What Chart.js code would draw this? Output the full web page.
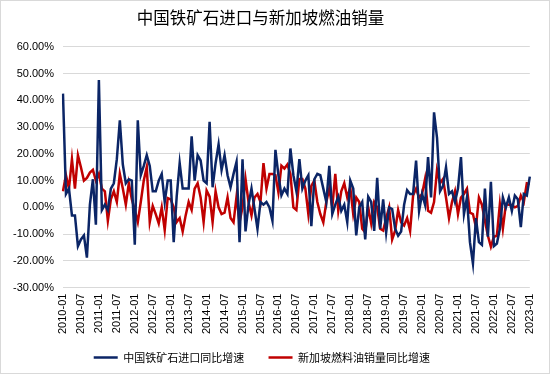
<!DOCTYPE html>
<html>
<head>
<meta charset="utf-8">
<script src="https://cdn.jsdelivr.net/npm/chart.js@4.4.1/dist/chart.umd.min.js"></script>
<style>
    html, body { margin: 0; padding: 0; background: #fff; }
    #wrap { position: relative; width: 548px; height: 372px; border: 1px solid #d9d9d9; }
</style>
</head>
<body>
<div id="wrap"><canvas id="chart"></canvas></div>
<script>
// ==================== DATA ====================
const TITLE = "中国铁矿石进口与新加坡燃油销量";
const SERIES_NAMES = ["中国铁矿石进口同比增速", "新加坡燃料油销量同比增速"];
const START_YEAR = 2010;
const END_YEAR = 2023;   // last point is 2023-01

// monthly yoy growth, %, 2010-01 .. 2023-01
const ironOre = [
    42.5, 5, 7, -3, -3, -14.5, -12, -10.5, -18.8, 1, 10.5, -6.5,
    47.6, -1, 1, -1, 7, 9, 18, 32.5, 16, 9, 10.5, 10,
    -14, 32.5, 12, 15.5, 19.5, 15.5, 6, 6, 10, 12.5, 2, 10,
    10, -13, 4, 16.5, 7, 7, 7, 26.5, 10, 19.5, 17.5, 10,
    9, 32, 7.5, 16.5, 23.5, 14, 19.5, 12, 7.5, 12.5, 17, -13,
    18, -9, 1, 7, -0.5, -8, 2, 1, 2, 0, -5, 21.5,
    12, 4.5, 7, 5, 22, 12, 6, 18, 7, 10, 12, -7,
    10.5, 12.5, 12, 7, 2, 15.5, -2.5, 1, 4, -1.3, 1, -5.5,
    10, 7, -10.5, 0, 2, -12, 4, 2, -8.8, 11, -8, 3,
    -9.4, 0, -0.6, -8, -10.6, -9, 1, 6.4, 5, 5, 17.5, -1.3,
    5, 1, 18.8, 3.7, 35.5, 26, 6, 8, 15, 5, 6, 2,
    7, 18.8, -2.5, 3.7, -13, -21, -4, -13, -14, 7, -11, 9.5,
    -14.5, -13.5, -8, 3.7, 0, 3.7, -1.3, 4.4, 3, -7.4, 5, 4.4,
    11.5
];
const fuelOil = [
    6, 12, 7, 18, 7, 19.5, 15, 10, 11, 13, 14, 10,
    12.5, 7, 6, -5, 3, 6, 2, 12.5, 7, 1, 9, 3,
    -1, -5.5, 2, 10, 15, -5.5, 0.5, -2.5, -6, 0, -8.5, 3.5,
    3, 0, -5.5, -4, -9, -3, 2, -1, 7, 9, 3.7, -5.5,
    6.3, 4, -5.5, 6, 0, -2.5, -2, 3.7, -4, -5.6, 4, -5.6,
    0, 10.6, 2, -3, 3.7, 5, 2, 16.5, 7, 12.5, 12.5, 12,
    5.6, 15.6, 14.5, 16, 12.5, 0, -1, 10.6, 10.6, 7, -2.5, 8,
    10, 2, -2.5, -5.6, 2, 7, 0, 12.5, -1.3, 6, 9, 3.7,
    7.5, -2.5, 3.7, 2, -8, -9.4, 0, -6, 2, 0, -8, -8.7,
    -4, 0, -12, -8.7, -1, -5.6, -6.8, -4, -8.8, 4.4, 7, 3.7,
    5, 10.6, -1.3, -2, 2, 14, 9, 10.6, 3.7, -4, 2, 6,
    -2.5, 3.7, 5, 7, -2, -2.5, -7.4, 3.7, 1, -5, -10.6, -14.7,
    -11, -10.6, 1.2, -8, 1.2, 1, 0.9, 0, 0.5, 4.4, 2, 9,
    8.7
];
const Y_MIN = -30;
const Y_MAX = 60;
const Y_STEP = 10;

// month labels yyyy-mm
const labels = [];
for (let y = START_YEAR; y <= END_YEAR; y++) {
    for (let m = 1; m <= 12; m++) {
        if (y === END_YEAR && m > 1) break;
        labels.push(y + "-" + String(m).padStart(2, "0"));
    }
}

const FONT = "'Liberation Sans', Arial, sans-serif";
const CJK = "'Noto Sans CJK SC', 'Liberation Sans', sans-serif";

// ==================== CHART ====================
new Chart(document.getElementById("chart"), {
    type: "line",
    data: {
        labels: labels,
        datasets: [
            { label: SERIES_NAMES[0], data: ironOre, borderColor: "#0b2566", backgroundColor: "#0b2566",
              borderWidth: 2.5, pointRadius: 0, tension: 0, pointStyle: "line" },
            { label: SERIES_NAMES[1], data: fuelOil, borderColor: "#c00000", backgroundColor: "#c00000",
              borderWidth: 2.5, pointRadius: 0, tension: 0, pointStyle: "line" }
        ]
    },
    options: {
        responsive: true,
        maintainAspectRatio: false,
        animation: false,
        layout: { padding: { left: 3, right: 12, top: 0, bottom: 0 } },
        plugins: {
            title: {
                display: true, text: TITLE + "\u3000 ", color: "#000",
                font: { family: CJK, size: 16.5, weight: "normal" },
                padding: { top: 7, bottom: 19 }
            },
            legend: {
                position: "bottom",
                labels: {
                    usePointStyle: true, pointStyleWidth: 24, color: "#000",
                    font: { family: CJK, size: 11 }, padding: 12,
                    // pad the texts a bit so the row spacing is like the original
                    generateLabels: function (chart) {
                        const items = Chart.defaults.plugins.legend.labels.generateLabels(chart);
                        items[0].text += "     ";
                        items[1].text += "       ";
                        return items;
                    }
                }
            },
            tooltip: { enabled: false }
        },
        scales: {
            x: {
                grid: { display: false, drawTicks: false },
                border: { display: false },
                ticks: {
                    autoSkip: false, minRotation: 90, maxRotation: 90, color: "#000", padding: 6,
                    font: { family: FONT, size: 11 },
                    callback: function (v, i) { return i % 6 === 0 ? labels[i] : ""; }
                }
            },
            y: {
                min: Y_MIN, max: Y_MAX,
                grid: { color: "#d9d9d9", drawTicks: false },
                border: { display: false },
                ticks: {
                    stepSize: Y_STEP, color: "#000", padding: 9,
                    font: { family: FONT, size: 11 },
                    callback: v => v.toFixed(2) + "%"
                }
            }
        }
    }
});
</script>
</body>
</html>
